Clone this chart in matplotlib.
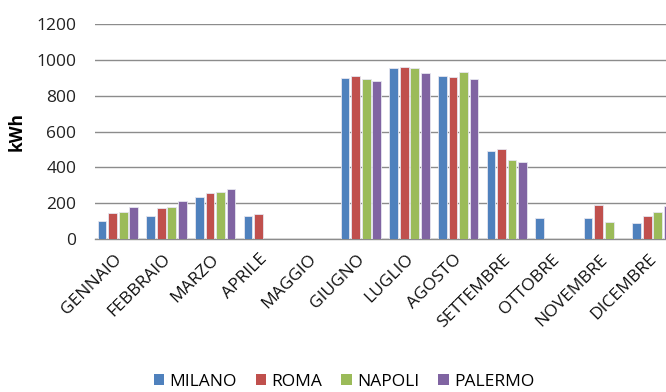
import numpy as np
import matplotlib
matplotlib.use("Agg")
import matplotlib.pyplot as plt
import matplotlib.transforms as mtransforms
from matplotlib.patches import Patch

plt.rcParams['font.family'] = ['Open Sans', 'DejaVu Sans']

months = ["GENNAIO", "FEBBRAIO", "MARZO", "APRILE", "MAGGIO", "GIUGNO",
          "LUGLIO", "AGOSTO", "SETTEMBRE", "OTTOBRE", "NOVEMBRE", "DICEMBRE"]
nan = np.nan
milano  = [100, 128, 236, 128, nan, 898, 952, 911, 493, 117, 117, 89]
roma    = [147, 171, 255, 140, nan, 911, 960, 904, 500, nan, 191, 130]
napoli  = [152, 177, 261, nan, nan, 893, 952, 934, 439, nan, 95, 148]
palermo = [177, 212, 279, nan, nan, 880, 928, 893, 431, nan, nan, 186]
series = [("MILANO", milano, "#4F81BD"), ("ROMA", roma, "#C0504D"),
          ("NAPOLI", napoli, "#9BBB59"), ("PALERMO", palermo, "#8064A2")]
yticks = [0, 200, 400, 600, 800, 1000, 1200]

W, H = 666, 392
fig = plt.figure(figsize=(W/100, H/100), dpi=100)
left, right, top, bottom = 94.5, 677.7, 24, 239
ax = fig.add_axes([left/W, (H-bottom)/H, (right-left)/W, (bottom-top)/H])

x = np.arange(len(months))
pitch = 0.218
bw = 0.18
for i, (name, vals, col) in enumerate(series):
    ax.bar(x + (i - 1.5) * pitch - 0.017, vals, width=bw, color=col,
           edgecolor="#e6e6f0", linewidth=0.6, zorder=3)

ax.set_xlim(-0.5, 11.5)
ax.set_ylim(0, 1200)
ax.set_yticks(yticks)
ax.set_yticklabels([str(t) for t in yticks], fontsize=12.5, color="#222222")
ax.yaxis.grid(True, color="#8c8c8c", linewidth=1.0, zorder=0)
ax.set_axisbelow(True)
for s in ["left", "right", "top"]:
    ax.spines[s].set_visible(False)
ax.spines["bottom"].set_color("#8c8c8c")
ax.spines["bottom"].set_linewidth(1.0)
ax.tick_params(axis="y", length=0, pad=13)
ax.tick_params(axis="x", length=0, pad=6)
ax.set_xticks(x)
ax.set_xticklabels(months, rotation=45, ha="right", va="top",
                   rotation_mode="anchor", fontsize=12.5, color="#111111")
offset = mtransforms.ScaledTranslation(-5/100, -4/100, fig.dpi_scale_trans)
for lbl in ax.get_xticklabels():
    lbl.set_transform(lbl.get_transform() + offset)
ax.set_ylabel("kWh", fontsize=12.5, fontweight="bold")
ax.yaxis.set_label_coords(-0.1175, 0.5)

handles = [Patch(facecolor=c, edgecolor="none", label=n) for n, _, c in series]
fig.legend(handles=handles, loc="center", bbox_to_anchor=(344/W, 1 - 382/H),
           ncol=4, frameon=False, fontsize=12.5, handlelength=0.6,
           handleheight=0.6, handletextpad=0.3, columnspacing=1.1)

fig.savefig("out.png", dpi=100)
